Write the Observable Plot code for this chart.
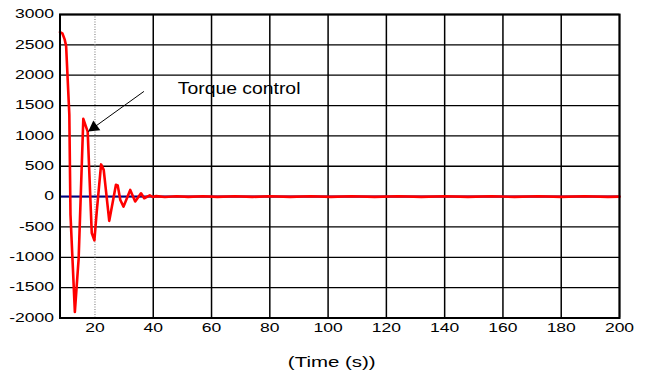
<!DOCTYPE html>
<html>
<head>
<meta charset="utf-8">
<script src="https://cdn.jsdelivr.net/npm/d3@7"></script>
<script src="https://cdn.jsdelivr.net/npm/@observablehq/plot@0.6"></script>
<style>
  html, body { margin: 0; padding: 0; background: #fff; }
  #chart { width: 649px; height: 378px; }
</style>
</head>
<body>
<div id="chart"></div>
<script>
// Torque response over time (s)
const time = [8.0, 8.8, 9.6, 10.1, 11.2, 11.6, 13.1, 14.4, 16.0, 17.5, 18.6, 18.9, 19.8, 20.6,
  22.1, 23.0, 24.9, 27.2, 27.8, 28.7, 29.8, 32.1, 33.8, 35.8, 36.9, 38.8, 39.8,
  41, 44, 48, 52, 57, 62, 68, 74, 80, 87, 94, 101, 108, 116, 124, 132, 140, 148,
  156, 164, 172, 180, 188, 196, 200];
const torque = [2710, 2690, 2590, 2480, 1350, -300, -1900, -1020, 1280, 1070, -250, -600, -720, -250,
  530, 440, -400, 195, 185, -55, -165, 110, -80, 55, -27, 20, -5,
  8, -6, 6, -5, 6, -5, 5, -5, 5, -5, 5, -5, 5, -5, 5, -5, 5, -5,
  5, -5, 5, -5, 5, -5, 0];

// Zero reference level
const refTime = [8, 200];
const refLevel = [0, 0];

// Axis ticks
const xTicks = [20, 40, 60, 80, 100, 120, 140, 160, 180, 200];
const yTicks = [-2000, -1500, -1000, -500, 0, 500, 1000, 1500, 2000, 2500, 3000];

// Annotation
const annotationText = "Torque control";
const annotationPos = [48.4, 1782];
const arrowFrom = [36.8, 1733];
const arrowTo = [17.7, 1073];
const axisTitle = "(Time (s))";

const series = time.map((t, i) => ({t, v: torque[i]}));
const reference = refTime.map((t, i) => ({t, v: refLevel[i]}));

const plot = Plot.plot({
  width: 649,
  height: 378,
  marginLeft: 59.5,
  marginRight: 30,
  marginTop: 14,
  marginBottom: 60.5,
  style: {
    background: "#fff",
    color: "#000",
    fontFamily: "'Liberation Sans', Arial, sans-serif",
    fontSize: "12px"
  },
  x: {domain: [8, 200], ticks: xTicks, tickSize: 0, tickPadding: 5, label: null, tickFormat: d => String(d)},
  y: {domain: [-2000, 3000], ticks: yTicks, tickSize: 0, tickPadding: 6, label: null, tickFormat: d => String(d)},
  marks: [
    Plot.ruleY(yTicks, {stroke: "#000", strokeWidth: 1.3}),
    Plot.ruleX(xTicks.slice(1), {stroke: "#000", strokeWidth: 1.5}),
    Plot.ruleX(xTicks.slice(0, 1), {stroke: "#8a8a8a", strokeWidth: 1.2, strokeDasharray: "1,1.5"}),
    Plot.line(reference, {x: "t", y: "v", stroke: "#000080", strokeWidth: 2}),
    Plot.line(series, {x: "t", y: "v", stroke: "#ff0000", strokeWidth: 2.6, strokeLinejoin: "round"}),
    Plot.frame({stroke: "#000", strokeWidth: 2}),
    Plot.link([{x1: arrowFrom[0], y1: arrowFrom[1], x2: arrowTo[0], y2: arrowTo[1]}],
      {x1: "x1", y1: "y1", x2: "x2", y2: "y2", stroke: "#000", strokeWidth: 1}),
    Plot.dot([{x: arrowTo[0], y: arrowTo[1]}],
      {x: "x", y: "y", symbol: "triangle", r: 4.5, fill: "#000", stroke: "none", rotate: 234.5, dx: 5.7, dy: -4.1}),
    Plot.text([{x: annotationPos[0], y: annotationPos[1], label: annotationText}],
      {x: "x", y: "y", text: "label", textAnchor: "start", fontSize: 16, fill: "#000"}),
    Plot.text([axisTitle], {frameAnchor: "bottom", dy: 49, dx: -8, fontSize: 14, fill: "#000"})
  ]
});

document.getElementById("chart").append(plot);

// Widen the lettering horizontally
plot.querySelectorAll("text").forEach(el => {
  const w = el.getComputedTextLength();
  if (!w) return;
  const f = el.textContent === annotationText ? 1.21 : 1.46;
  el.setAttribute("textLength", (w * f).toFixed(1));
  el.setAttribute("lengthAdjust", "spacingAndGlyphs");
});
</script>
</body>
</html>
